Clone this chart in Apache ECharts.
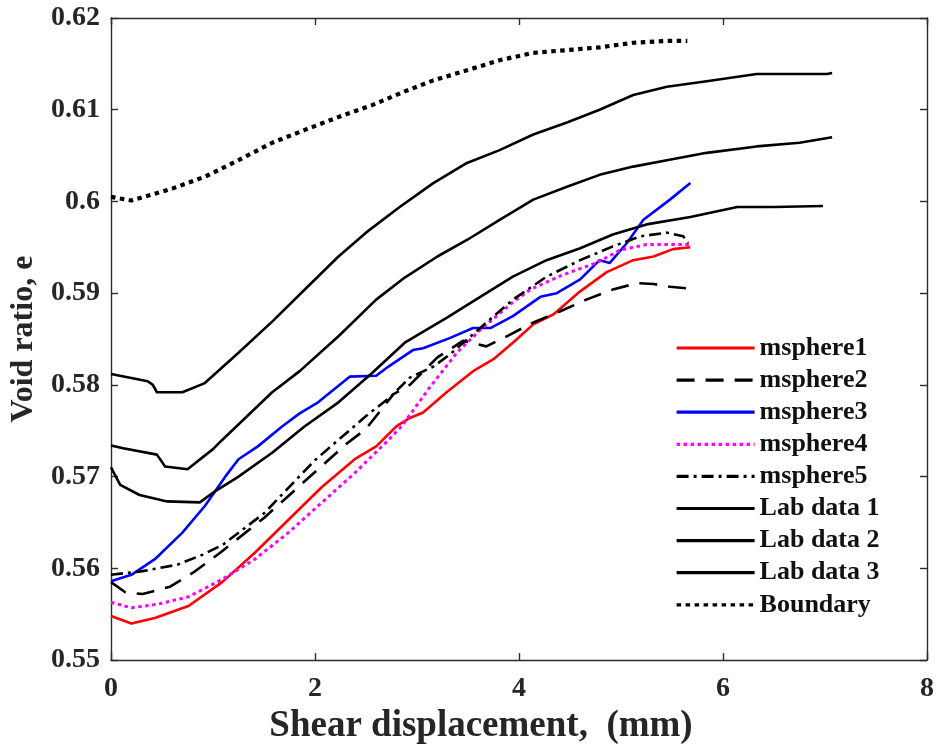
<!DOCTYPE html>
<html>
<head>
<meta charset="utf-8">
<script src="https://cdn.jsdelivr.net/npm/echarts@6/dist/echarts.min.js"></script>
<style>
  html, body { margin: 0; padding: 0; background: #ffffff; }
  #chart { width: 938px; height: 750px; }
</style>
</head>
<body>
<div id="chart"></div>
<script>
// Shear displacement (mm) and void ratio e for each curve
const m1X = [0, 0.2, 0.43, 0.76, 1.09, 1.41, 1.74, 2.07, 2.39, 2.6, 2.8, 2.93, 3.06, 3.29, 3.55, 3.75, 3.94, 4.14, 4.34, 4.6, 4.86, 5.12, 5.32, 5.51, 5.68];
const m1Y = [0.5548, 0.5540, 0.5546, 0.5559, 0.5585, 0.5617, 0.5653, 0.5689, 0.5719, 0.5733, 0.5755, 0.5764, 0.5770, 0.5792, 0.5815, 0.5828, 0.5846, 0.5866, 0.5877, 0.5902, 0.5923, 0.5936, 0.5940, 0.5948, 0.5950];

const m2X = [0, 0.14, 0.31, 0.58, 0.8, 1.07, 1.5, 2.0, 2.3, 2.5, 2.77, 2.93, 3.2, 3.45, 3.68, 3.88, 4.14, 4.40, 4.66, 4.92, 5.16, 5.32, 5.48, 5.68];
const m2Y = [0.5585, 0.5574, 0.5572, 0.5580, 0.5595, 0.5617, 0.5655, 0.5705, 0.5735, 0.5752, 0.5790, 0.5800, 0.5830, 0.5848, 0.5842, 0.5853, 0.5868, 0.5880, 0.5893, 0.5904, 0.5911, 0.5910, 0.5907, 0.5905];

const m3X = [0, 0.2, 0.43, 0.70, 0.92, 1.12, 1.25, 1.44, 1.68, 1.85, 2.03, 2.34, 2.6, 2.72, 2.96, 3.06, 3.32, 3.55, 3.72, 3.94, 4.21, 4.37, 4.6, 4.79, 4.89, 5.06, 5.22, 5.48, 5.68];
const m3Y = [0.5586, 0.5593, 0.5610, 0.5639, 0.5668, 0.5700, 0.5719, 0.5733, 0.5755, 0.5769, 0.5781, 0.5809, 0.5810, 0.5820, 0.5838, 0.5840, 0.5851, 0.5862, 0.5862, 0.5875, 0.5896, 0.5900, 0.5915, 0.5936, 0.5933, 0.5955, 0.5980, 0.6002, 0.6020];

const m4X = [0, 0.2, 0.46, 0.76, 1.09, 1.41, 1.74, 2.07, 2.39, 2.72, 2.85, 3.13, 3.39, 3.62, 3.94, 4.11, 4.43, 4.76, 4.99, 5.25, 5.68];
const m4Y = [0.5563, 0.5557, 0.5561, 0.5569, 0.5588, 0.5610, 0.5639, 0.5672, 0.5704, 0.5740, 0.5755, 0.5798, 0.5835, 0.5860, 0.5890, 0.5904, 0.5920, 0.5933, 0.5947, 0.5953, 0.5953];

const m5X = [0, 0.31, 0.65, 0.9, 1.1, 1.5, 2.0, 2.5, 2.74, 2.93, 3.16, 3.32, 3.62, 3.94, 4.27, 4.6, 4.92, 5.19, 5.45, 5.61, 5.66];
const m5Y = [0.5593, 0.5597, 0.5604, 0.5615, 0.5626, 0.5660, 0.5718, 0.5766, 0.5787, 0.5808, 0.5820, 0.5833, 0.5862, 0.5893, 0.5918, 0.5936, 0.5951, 0.5962, 0.5966, 0.5962, 0.5955];

const lab1X = [0, 0.36, 0.41, 0.45, 0.70, 0.92, 1.25, 1.58, 1.90, 2.23, 2.50, 2.83, 3.16, 3.49, 3.81, 4.14, 4.47, 4.79, 5.12, 5.45, 5.84, 6.33, 6.6, 7.02, 7.07];
const lab1Y = [0.5812, 0.5804, 0.5800, 0.5792, 0.5792, 0.5802, 0.5835, 0.5869, 0.5904, 0.5940, 0.5966, 0.5994, 0.6020, 0.6042, 0.6056, 0.6073, 0.6086, 0.6100, 0.6116, 0.6125, 0.6131, 0.6139, 0.6139, 0.6139, 0.6140];

const lab2X = [0, 0.12, 0.45, 0.53, 0.75, 1.0, 1.09, 1.58, 1.85, 2.23, 2.6, 2.88, 3.2, 3.49, 3.81, 4.14, 4.47, 4.79, 5.12, 5.45, 5.84, 6.33, 6.75, 7.07];
const lab2Y = [0.5734, 0.5731, 0.5724, 0.5711, 0.5708, 0.5730, 0.5740, 0.5792, 0.5815, 0.5853, 0.5893, 0.5917, 0.5940, 0.5958, 0.5980, 0.6002, 0.6016, 0.6029, 0.6038, 0.6045, 0.6053, 0.6060, 0.6064, 0.6070];

const lab3X = [0, 0.09, 0.28, 0.55, 0.87, 1.02, 1.25, 1.58, 1.9, 2.23, 2.56, 2.88, 3.29, 3.62, 3.94, 4.27, 4.6, 4.92, 5.25, 5.68, 6.14, 6.5, 6.98];
const lab3Y = [0.5710, 0.5691, 0.5680, 0.5673, 0.5672, 0.5684, 0.5700, 0.5726, 0.5755, 0.5781, 0.5813, 0.5846, 0.5873, 0.5896, 0.5918, 0.5936, 0.5949, 0.5964, 0.5975, 0.5983, 0.5994, 0.5994, 0.5995];

const boundaryX = [0, 0.2, 0.6, 0.92, 1.25, 1.58, 1.9, 2.23, 2.56, 2.88, 3.16, 3.49, 3.81, 4.14, 4.47, 4.79, 5.12, 5.45, 5.65];
const boundaryY = [0.6005, 0.6001, 0.6014, 0.6027, 0.6045, 0.6064, 0.6078, 0.6092, 0.6105, 0.6120, 0.6132, 0.6143, 0.6154, 0.6162, 0.6165, 0.6168, 0.6173, 0.6175, 0.6175];

const xTicks = { min: 0, max: 8, step: 2 };
const yTicks = { min: 0.55, max: 0.62, step: 0.01 };

const FONT = '"Liberation Serif", "Times New Roman", serif';
const AXIS_COLOR = '#2b2b2b';

const zip = (xs, ys) => xs.map((x, i) => [x, ys[i]]);

function lineSeries(name, xs, ys, color, width, type) {
  return {
    name: name,
    type: 'line',
    data: zip(xs, ys),
    showSymbol: false,
    symbol: 'none',
    smooth: false,
    animation: false,
    lineStyle: { color: color, width: width, type: type, cap: 'butt', join: 'round' },
    itemStyle: { color: color },
    z: 3
  };
}

const series = [
  lineSeries('msphere1', m1X, m1Y, '#ff0000', 2.6, 'solid'),
  lineSeries('msphere2', m2X, m2Y, '#000000', 2.6, [18, 11]),
  lineSeries('msphere3', m3X, m3Y, '#0000ff', 2.6, 'solid'),
  lineSeries('msphere4', m4X, m4Y, '#ff00ff', 3, [3.5, 3.5]),
  lineSeries('msphere5', m5X, m5Y, '#000000', 2.6, [12, 5, 3, 5]),
  lineSeries('Lab data 1', lab1X, lab1Y, '#000000', 2.6, 'solid'),
  lineSeries('Lab data 2', lab2X, lab2Y, '#000000', 2.6, 'solid'),
  lineSeries('Lab data 3', lab3X, lab3Y, '#000000', 2.6, 'solid'),
  lineSeries('Boundary', boundaryX, boundaryY, '#000000', 4.2, [4.5, 4.5])
];

const tickLabel = { fontFamily: FONT, fontWeight: 'bold', fontSize: 28, color: '#262626' };
const axisLine = { show: true, onZero: false, lineStyle: { color: AXIS_COLOR, width: 1.4 } };
const axisTick = { show: true, inside: true, length: 7, lineStyle: { color: AXIS_COLOR, width: 1.4 } };

const chart = echarts.init(document.getElementById('chart'), null, { renderer: 'canvas' });
chart.setOption({
  backgroundColor: '#ffffff',
  animation: false,
  grid: { left: 111, right: 11, top: 18, bottom: 89, containLabel: false },
  legend: {
    orient: 'vertical',
    left: 675,
    top: 335,
    itemWidth: 78,
    itemHeight: 14,
    itemGap: 6.1,
    padding: 0,
    selectedMode: false,
    itemStyle: { opacity: 0 },
    lineStyle: { width: 3.2 },
    textStyle: { fontFamily: FONT, fontWeight: 'bold', fontSize: 26, color: '#111111', padding: [0, 0, 0, 0] },
    data: series.map(s => s.name)
  },
  xAxis: [
    {
      type: 'value', min: xTicks.min, max: xTicks.max, interval: xTicks.step,
      name: 'Shear displacement,  (mm)', nameLocation: 'middle', nameGap: 45,
      nameTextStyle: { fontFamily: FONT, fontWeight: 'bold', fontSize: 37, color: '#262626', padding: [0, 76, 0, 0] },
      axisLine: axisLine, axisTick: axisTick, splitLine: { show: false },
      axisLabel: Object.assign({ margin: 15 }, tickLabel)
    },
    {
      type: 'value', position: 'top', min: xTicks.min, max: xTicks.max, interval: xTicks.step,
      axisLine: axisLine, axisTick: axisTick, splitLine: { show: false }, axisLabel: { show: false }
    }
  ],
  yAxis: [
    {
      type: 'value', min: yTicks.min, max: yTicks.max, interval: yTicks.step,
      name: 'Void ratio, e', nameLocation: 'middle', nameGap: 66, nameRotate: 90,
      nameTextStyle: { fontFamily: FONT, fontWeight: 'bold', fontSize: 32, color: '#262626' },
      axisLine: axisLine, axisTick: axisTick, splitLine: { show: false },
      axisLabel: Object.assign({ margin: 11 }, tickLabel)
    },
    {
      type: 'value', position: 'right', min: yTicks.min, max: yTicks.max, interval: yTicks.step,
      axisLine: axisLine, axisTick: axisTick, splitLine: { show: false }, axisLabel: { show: false }
    }
  ],
  series: series
});
</script>
</body>
</html>
